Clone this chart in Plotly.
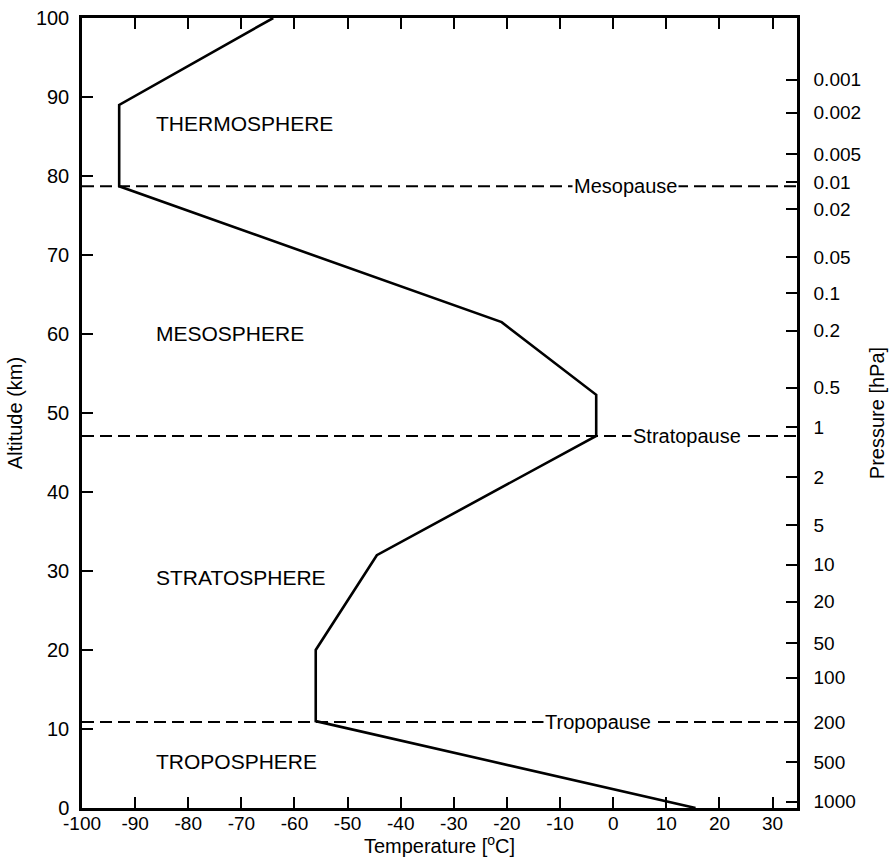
import plotly.graph_objects as go

# Temperature profile (standard atmosphere)
temperature_c = [15.5, -56, -56, -44.5, -3.2, -3.2, -21, -93, -93, -64]
altitude_km = [0, 11, 20, 32, 47.1, 52.3, 61.5, 78.7, 89, 100]

# Boundary (pause) levels
pause_names = ["Tropopause", "Stratopause", "Mesopause"]
pause_alt = [10.9, 47.1, 78.7]
pause_label_temp = [-2.8, 13.9, 2.4]

# Layer names
layer_names = ["TROPOSPHERE", "STRATOSPHERE", "MESOSPHERE", "THERMOSPHERE"]
layer_alt = [5.9, 29.2, 60.1, 86.7]
layer_temp = [-86.5, -86.5, -86.5, -86.5]

# Axis ticks
temp_ticks = [-100, -90, -80, -70, -60, -50, -40, -30, -20, -10, 0, 10, 20, 30]
temp_tick_labels = ["-100", "-90", "-80", "-70", "-60", "-50", "-40", "-30", "-20", "-10", "0", "10", "20", "30"]
alt_ticks = [0, 10, 20, 30, 40, 50, 60, 70, 80, 90, 100]

# Pressure scale (right axis): labels and corresponding altitudes
pressure_labels = ["0.001", "0.002", "0.005", "0.01", "0.02", "0.05", "0.1", "0.2", "0.5", "1",
                   "2", "5", "10", "20", "50", "100", "200", "500", "1000"]
pressure_alt = [92.2, 88.0, 82.8, 79.2, 75.8, 69.7, 65.2, 60.4, 53.2, 48.2,
                41.9, 35.8, 30.8, 26.1, 20.9, 16.5, 10.9, 5.8, 0.8]

X_RANGE = [-100, 34.6]
FONT = "Liberation Sans, Arial, Helvetica, sans-serif"

fig = go.Figure()

# dashed pause lines
for a in pause_alt:
    fig.add_trace(go.Scatter(x=X_RANGE, y=[a, a], mode="lines",
                             line=dict(color="black", width=2, dash="12px,6px"),
                             showlegend=False, hoverinfo="skip"))

fig.add_trace(go.Scatter(x=temperature_c, y=altitude_km, mode="lines",
                         line=dict(color="black", width=2.6),
                         showlegend=False))

# invisible trace for the right axis
fig.add_trace(go.Scatter(x=[X_RANGE[0]], y=[0], yaxis="y2", mode="markers",
                         marker=dict(opacity=0), showlegend=False, hoverinfo="skip"))

for name, a, t in zip(pause_names, pause_alt, pause_label_temp):
    fig.add_annotation(x=t, y=a, text=name, showarrow=False, bgcolor="white",
                       font=dict(family=FONT, size=20, color="black"),
                       xanchor="center", yanchor="middle", borderpad=1)

for name, a, t in zip(layer_names, layer_alt, layer_temp):
    fig.add_annotation(x=t, y=a, text=name, showarrow=False,
                       font=dict(family=FONT, size=21, color="black"),
                       xanchor="left", yanchor="middle")

fig.update_layout(
    width=889, height=857,
    margin=dict(l=82, r=92, t=18, b=49, autoexpand=False),
    paper_bgcolor="white", plot_bgcolor="white",
    font=dict(family=FONT, size=20, color="black"),
    xaxis=dict(range=X_RANGE, tickvals=temp_ticks, ticktext=temp_tick_labels,
               ticks="inside", ticklen=11, tickwidth=2, tickcolor="black",
               showline=True, linecolor="black", linewidth=2.5, mirror="ticks",
               showgrid=False, zeroline=False, ticklabelstandoff=-4,
               title=dict(text="Temperature [<sup>o</sup>C]", standoff=3,
                          font=dict(size=20)),
               tickfont=dict(size=19)),
    yaxis=dict(range=[0, 100], tickvals=alt_ticks, ticks="inside", ticklen=11,
               tickwidth=2, tickcolor="black",
               showline=True, linecolor="black", linewidth=2.5, mirror=True,
               showgrid=False, zeroline=False, ticklabelstandoff=6,
               title=dict(text="Altitude (km)", standoff=8, font=dict(size=20)),
               tickfont=dict(size=20)),
    yaxis2=dict(range=[0, 100], overlaying="y", side="right", anchor="x",
                tickvals=pressure_alt, ticktext=pressure_labels,
                ticks="inside", ticklen=11, tickwidth=2, tickcolor="black",
                showline=True, linecolor="black", linewidth=2.5,
                showgrid=False, zeroline=False, ticklabelstandoff=10,
                title=dict(text="Pressure [hPa]", standoff=10, font=dict(size=20)),
                tickfont=dict(size=19)),
)

fig.write_html("out.html", post_script="document.body.style.margin='0';",
               config={"displayModeBar": False})
